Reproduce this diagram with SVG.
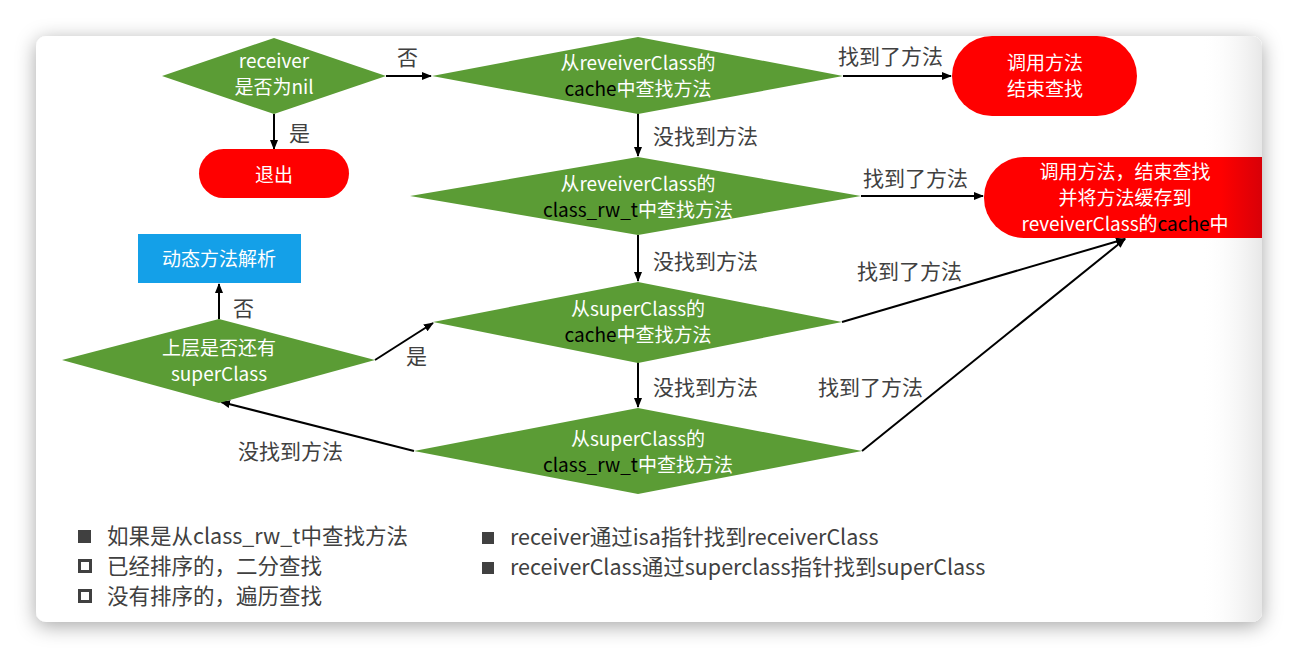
<svg xmlns="http://www.w3.org/2000/svg" width="1298" height="658" viewBox="0 0 1298 658">
<defs>
<filter id="shadow" x="-10%" y="-10%" width="120%" height="125%">
<feDropShadow dx="0" dy="4" stdDeviation="10" flood-color="#000" flood-opacity="0.35"/>
</filter>
<clipPath id="cardclip"><rect x="36" y="36" width="1226" height="586" rx="10"/></clipPath>
<linearGradient id="edge" x1="0" y1="0" x2="1" y2="0">
<stop offset="0" stop-color="#ffffff" stop-opacity="0"/>
<stop offset="1" stop-color="#d8d8d8" stop-opacity="0.6"/>
</linearGradient>
<linearGradient id="redg" x1="984" y1="0" x2="1262" y2="0" gradientUnits="userSpaceOnUse">
<stop offset="0.85" stop-color="#FF0000"/>
<stop offset="1" stop-color="#D80008"/>
</linearGradient>
<marker id="arr" markerWidth="10" markerHeight="10" refX="9" refY="5" orient="auto" markerUnits="userSpaceOnUse">
<path d="M0,1 L10,5 L0,9 Z" fill="#000"/>
</marker>
<style>
.dia{fill:#5B9C35}
.red{fill:#FF0000}
.blue{fill:#14A0E8}
.wt{font-family:"Noto Sans CJK SC","Noto Sans",sans-serif;font-size:19px;fill:#fff;text-anchor:middle}
.bk{fill:#000}
.lbl{font-family:"Noto Sans CJK SC","Noto Sans",sans-serif;font-size:21px;fill:#404040}
.leg{font-family:"Noto Sans CJK SC","Noto Sans",sans-serif;font-size:21.5px;fill:#404040}
.ln{stroke:#000;stroke-width:2;fill:none}
</style>
</defs>
<rect width="1298" height="658" fill="#fff"/>
<rect x="36" y="36" width="1226" height="586" rx="10" fill="#fff" filter="url(#shadow)"/>
<rect x="1200" y="36" width="62" height="586" fill="url(#edge)" clip-path="url(#cardclip)"/>

<g id="connectors">
<line class="ln" x1="386" y1="76" x2="431" y2="76" marker-end="url(#arr)"/>
<text class="lbl" x="397" y="65">否</text>
<line class="ln" x1="274" y1="114" x2="274" y2="149" marker-end="url(#arr)"/>
<text class="lbl" x="289" y="141">是</text>
<line class="ln" x1="843" y1="76" x2="951" y2="76" marker-end="url(#arr)"/>
<text class="lbl" x="838" y="64">找到了方法</text>
<line class="ln" x1="638" y1="113" x2="638" y2="156" marker-end="url(#arr)"/>
<text class="lbl" x="653" y="144">没找到方法</text>
<line class="ln" x1="861" y1="196" x2="983" y2="196" marker-end="url(#arr)"/>
<text class="lbl" x="863" y="186">找到了方法</text>
<line class="ln" x1="638" y1="235" x2="638" y2="281" marker-end="url(#arr)"/>
<text class="lbl" x="653" y="269">没找到方法</text>
<line class="ln" x1="842" y1="322" x2="1125" y2="239" marker-end="url(#arr)"/>
<text class="lbl" x="857" y="279">找到了方法</text>
<line class="ln" x1="638" y1="362" x2="638" y2="407" marker-end="url(#arr)"/>
<text class="lbl" x="653" y="395">没找到方法</text>
<line class="ln" x1="862" y1="451" x2="1125" y2="239" marker-end="url(#arr)"/>
<text class="lbl" x="818" y="395">找到了方法</text>
<line class="ln" x1="414" y1="451" x2="221" y2="402" marker-end="url(#arr)"/>
<text class="lbl" x="238" y="459">没找到方法</text>
<line class="ln" x1="375" y1="360" x2="433" y2="323" marker-end="url(#arr)"/>
<text class="lbl" x="406" y="364">是</text>
<line class="ln" x1="219" y1="319" x2="219" y2="284" marker-end="url(#arr)"/>
<text class="lbl" x="233" y="316">否</text>
</g>

<g id="n_receiver">
<polygon class="dia" points="274,38 386,76 274,114 162,76"/>
<text class="wt" x="274" y="68">receiver</text>
<text class="wt" x="274" y="94">是否为nil</text>
</g>
<g id="n_exit">
<rect class="red" x="199" y="149" width="150" height="49" rx="24.5"/>
<text class="wt" x="274" y="182">退出</text>
</g>
<g id="n_cache1">
<polygon class="dia" points="638,37 843,76 638,114 432,76"/>
<text class="wt" x="638" y="70">从reveiverClass的</text>
<text class="wt" x="638" y="96"><tspan class="bk">cache</tspan>中查找方法</text>
</g>
<g id="n_call1">
<rect class="red" x="952" y="36" width="185" height="80" rx="40"/>
<text class="wt" x="1045" y="70">调用方法</text>
<text class="wt" x="1045" y="96">结束查找</text>
</g>
<g id="n_rw1">
<polygon class="dia" points="638,157 861,196 638,235 410,196"/>
<text class="wt" x="638" y="191">从reveiverClass的</text>
<text class="wt" x="638" y="217"><tspan class="bk">class_rw_t</tspan>中查找方法</text>
</g>
<g id="n_call2">
<rect x="984" y="157" width="320" height="81" rx="40" fill="url(#redg)" clip-path="url(#cardclip)"/>
<text class="wt" x="1125" y="179">调用方法，结束查找</text>
<text class="wt" x="1125" y="205">并将方法缓存到</text>
<text class="wt" x="1125" y="231">reveiverClass的<tspan class="bk">cache</tspan>中</text>
</g>
<g id="n_cache2">
<polygon class="dia" points="638,282 842,322 638,363 433,322"/>
<text class="wt" x="638" y="316">从superClass的</text>
<text class="wt" x="638" y="342"><tspan class="bk">cache</tspan>中查找方法</text>
</g>
<g id="n_rw2">
<polygon class="dia" points="638,408 862,451 638,494 414,451"/>
<text class="wt" x="638" y="446">从superClass的</text>
<text class="wt" x="638" y="472"><tspan class="bk">class_rw_t</tspan>中查找方法</text>
</g>
<g id="n_hasSuper">
<polygon class="dia" points="219,319 375,360 219,403 62,360"/>
<text class="wt" x="219" y="355">上层是否还有</text>
<text class="wt" x="219" y="381">superClass</text>
</g>
<g id="n_dynamic">
<rect class="blue" x="138" y="234" width="163" height="49"/>
<text class="wt" x="219" y="266">动态方法解析</text>
</g>

<g id="legend">
<rect x="78" y="530" width="13" height="13" fill="#404040"/>
<text class="leg" x="107" y="544">如果是从class_rw_t中查找方法</text>
<rect x="79.5" y="560.5" width="11" height="11" fill="none" stroke="#404040" stroke-width="3"/>
<text class="leg" x="107" y="574">已经排序的，二分查找</text>
<rect x="79.5" y="590.5" width="11" height="11" fill="none" stroke="#404040" stroke-width="3"/>
<text class="leg" x="107" y="604">没有排序的，遍历查找</text>
<rect x="482" y="532" width="12" height="12" fill="#404040"/>
<text class="leg" x="510" y="545">receiver通过isa指针找到receiverClass</text>
<rect x="482" y="562" width="12" height="12" fill="#404040"/>
<text class="leg" x="510" y="575">receiverClass通过superclass指针找到superClass</text>
</g>
</svg>
